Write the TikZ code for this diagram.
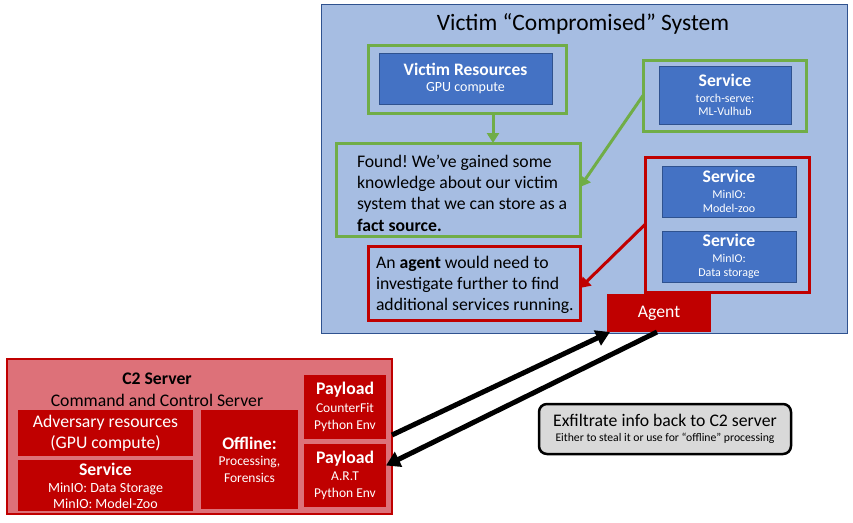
\documentclass[tikz,border=0pt]{standalone}
\usepackage{fontspec}
\setmainfont{Carlito}
\usetikzlibrary{arrows.meta,calc}
\newcommand{\fsz}[2]{\fontsize{#1}{#2}\selectfont}
\definecolor{vbg}{RGB}{166,189,226}
\definecolor{vborder}{RGB}{47,82,143}
\definecolor{sblue}{RGB}{68,114,196}
\definecolor{vgreen}{RGB}{112,173,71}
\definecolor{vred}{RGB}{192,0,0}
\definecolor{c2fill}{RGB}{221,113,121}
\definecolor{exgray}{RGB}{217,217,217}
\frenchspacing
\begin{document}
\begin{tikzpicture}[x=1pt,y=-1pt,
  every node/.style={inner sep=0pt, outer sep=0pt},
  svc/.style={fill=sblue, draw=vborder, line width=1pt, text=white, align=center},
  gbox/.style={draw=vgreen, line width=3pt},
  rbox/.style={draw=vred, line width=3pt},
  c2in/.style={fill=vred, text=white, align=center},
  garrow/.style={draw=vgreen, line width=3pt, -{Triangle[length=10pt,width=12pt]}},
  rarrow/.style={draw=vred, line width=3pt, -{Triangle[length=10pt,width=12pt]}},
  barrow/.style={draw=black, line width=5pt, -{Triangle[length=14pt,width=16pt]}},
  bodytxt/.style={align=left, anchor=west}
]
\useasboundingbox (0,0) rectangle (853,522);

% Victim system
\node[fill=vbg, draw=vborder, line width=1pt, minimum width=526, minimum height=329] (victim) at (584,168.5) {};
\node[font=\fsz{23.5}{28}, anchor=base] (title) at (583,30) {Victim “Compromised” System};

\node[gbox, minimum width=198, minimum height=68] (grn1) at (467,79) {};
\node[svc, minimum width=173, minimum height=51, font=\fsz{14}{16}] (vres) at (465.5,78.5)
  {{\bfseries\fsz{17.5}{17.5}Victim Resources}\\GPU compute};

\node[gbox, minimum width=163, minimum height=71] (grn3) at (724.5,95.5) {};
\node[svc, minimum width=132, minimum height=58, font=\fsz{12}{13.5}] (svc1) at (725,95)
  {{\bfseries\fsz{17.7}{17.7}Service}\\[2pt]torch-serve:\\ML-Vulhub};

\node[rbox, minimum width=164, minimum height=135] (redsvc) at (727,224.5) {};
\node[svc, minimum width=134, minimum height=51, font=\fsz{12}{14}] (svcA) at (729,191.5)
  {{\bfseries\fsz{17.7}{17.7}Service}\\[2pt]MinIO:\\Model-zoo};
\node[svc, minimum width=134, minimum height=51, font=\fsz{12}{14}] (svcB) at (729,256.5)
  {{\bfseries\fsz{17.7}{17.7}Service}\\[2pt]MinIO:\\Data storage};

\node[gbox, minimum width=244, minimum height=93] (found) at (458,189.5) {};
\node[bodytxt, font=\fsz{17.7}{21.3}] (foundtxt) at (357,193)
  {Found! We’ve gained some\\knowledge about our victim\\system that we can store as a\\\textbf{fact source.}};

\node[rbox, minimum width=212, minimum height=74] (redtxt) at (474,283) {};
\node[bodytxt, font=\fsz{17.7}{20.7}] (redtxtt) at (376,285)
  {An \textbf{agent} would need to\\investigate further to find\\additional services running.};

\node[fill=vred, text=white, minimum width=104, minimum height=38, font=\fsz{17.7}{17.7}] (agent) at (659,313) {Agent};

% connectors inside victim
\draw[garrow] ([xshift=26pt]grn1.south) -- ([xshift=26pt]grn1.south |- found.north);
\draw[garrow] (grn3.west) -- ($(found.east)+(0,-2.5)$);
\draw[rarrow] (redsvc.west) -- ($(redtxt.east)+(0,5)$);

% C2 server
\node[fill=c2fill, draw=vred, line width=1.5pt, minimum width=385, minimum height=155] (c2) at (199.5,436.5) {};
\node[align=center, font=\fsz{17.7}{22}] (c2title) at (157,390)
  {\textbf{C2 Server}\\Command and Control Server};
\node[c2in, minimum width=175, minimum height=46, font=\fsz{17.7}{21}] (adv) at (105.5,433)
  {Adversary resources\\(GPU compute)};
\node[c2in, minimum width=175, minimum height=51, font=\fsz{14}{16}] (c2svc) at (105.5,485.5)
  {{\bfseries\fsz{17.7}{17.7}Service}\\[1pt]MinIO: Data Storage\\MinIO: Model-Zoo};
\node[c2in, minimum width=97, minimum height=99, font=\fsz{13.5}{17}] (offline) at (249.5,459.5)
  {{\bfseries\fsz{17.7}{17.7}Offline:}\\[-1pt]Processing,\\Forensics};
\node[c2in, minimum width=82, minimum height=64, font=\fsz{13.5}{16.5}] (pay1) at (345,407)
  {{\bfseries\fsz{17.7}{17.7}Payload}\\[1.5pt]CounterFit\\Python Env};
\node[c2in, minimum width=82, minimum height=63, font=\fsz{13.5}{17}] (pay2) at (345,475.5)
  {{\bfseries\fsz{17.7}{17.7}Payload}\\A.R.T\\Python Env};

% exfiltrate note
\node[fill=exgray, draw=black, line width=2.5pt, rounded corners=8pt, minimum width=252, minimum height=50, align=center, font=\fsz{11.7}{15}] (exfil) at (665,429)
  {{\fsz{17.7}{17.7}Exfiltrate info back to C2 server}\\Either to steal it or use for “offline” processing};

% black arrows
\draw[barrow] ($(c2.east |- pay1.south)+(0,-4)$) -- ($(agent.south west)+(3,0)$);
\draw[barrow] ($(agent.south west)+(50,0)$) -- ($(pay2.east)+(0,-10)$);
\end{tikzpicture}
\end{document}
